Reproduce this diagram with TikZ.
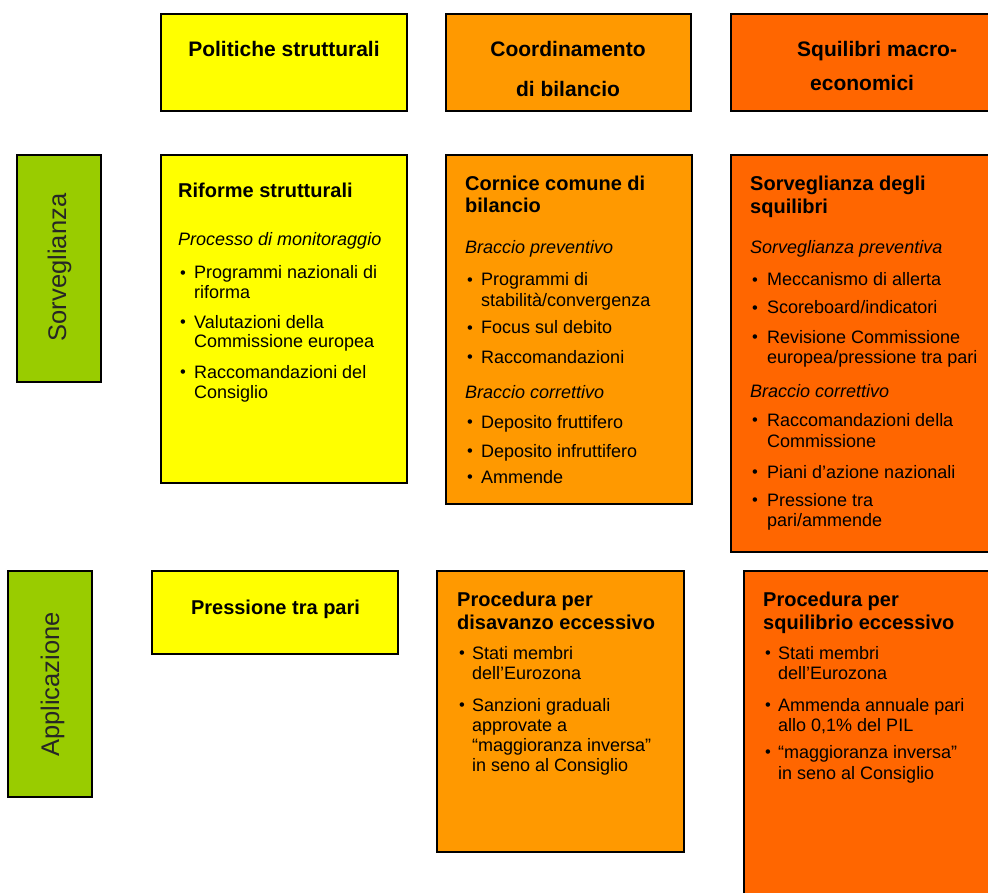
\documentclass[tikz,border=0pt]{standalone}
\usepackage{fontspec}
\setmainfont{Liberation Sans}
\definecolor{cyel}{HTML}{FFFF00}
\definecolor{corg}{HTML}{FF9900}
\definecolor{cdor}{HTML}{FF6600}
\definecolor{cgrn}{HTML}{99CC00}
\tikzset{
  box/.style={draw=black, line width=1.3pt, inner sep=0pt, outer sep=0pt, anchor=north west},
  hd/.style={font=\fontsize{21}{24}\selectfont\bfseries, anchor=base, inner sep=0pt},
  hdl/.style={font=\fontsize{21}{24}\selectfont\bfseries, anchor=base west, inner sep=0pt},
  ttl/.style={font=\fontsize{20}{22}\selectfont\bfseries, anchor=base west, inner sep=0pt},
  itl/.style={font=\fontsize{18}{20}\selectfont\itshape, anchor=base west, inner sep=0pt},
  txt/.style={font=\fontsize{18}{20}\selectfont, anchor=base west, inner sep=0pt},
  dot/.style={font=\fontsize{16.5}{18}\selectfont, anchor=base west, inner sep=0pt},
  side/.style={font=\fontsize{25.5}{27}\selectfont, rotate=90, anchor=base, inner sep=0pt, text=black!85},
}
\newcommand\bitem[5]{\node[dot] (#1b) at (#2,#4-0.5) {\textbullet}; \node[txt] (#1) at (#3,#4) {#5};}
\begin{document}
\begin{tikzpicture}[x=1pt,y=-1pt]
\useasboundingbox (0,0) rectangle (988,893);
\clip (0,0) rectangle (988,893);
% row 0 headers
\node[box, fill=cyel, minimum width=246pt, minimum height=97pt] (h1) at (161,14) {};
\node[box, fill=corg, minimum width=245pt, minimum height=97pt] (h2) at (446,14) {};
\node[box, fill=cdor, minimum width=290pt, minimum height=97pt] (h3) at (731,14) {};
\node[hd] (h1t) at (284,57) {Politiche strutturali};
\node[hd] (h2t) at (568,57) {Coordinamento};
\node[hd] (h2u) at (568,97) {di bilancio};
\node[hdl] (h3t) at (797,57) {Squilibri macro-};
\node[hdl] (h3u) at (810,91) {economici};
% row 1
\node[box, fill=cgrn, minimum width=84pt, minimum height=227pt] (g1) at (17,155) {};
\node[side] (g1t) at (66,267.5) {Sorveglianza};
\node[box, fill=cyel, minimum width=246pt, minimum height=328pt] (b1) at (161,155) {};
\node[box, fill=corg, minimum width=246pt, minimum height=349pt] (b2) at (446,155) {};
\node[box, fill=cdor, minimum width=290pt, minimum height=397pt] (b3) at (731,155) {};
% b1 text
\node[ttl] (b1t) at (178,198) {Riforme strutturali};
\node[itl] (b1i) at (178,246) {Processo di monitoraggio};
\bitem{b1a}{180}{194}{279}{Programmi nazionali di}
\node[txt] (b1a2) at (194,299) {riforma};
\bitem{b1c}{180}{194}{328}{Valutazioni della}
\node[txt] (b1c2) at (194,348) {Commissione europea};
\bitem{b1e}{180}{194}{378}{Raccomandazioni del}
\node[txt] (b1e2) at (194,398) {Consiglio};
% b2 text
\node[ttl] (b2t) at (465,191) {Cornice comune di};
\node[ttl] (b2u) at (465,213) {bilancio};
\node[itl] (b2i) at (465,254) {Braccio preventivo};
\bitem{b2a}{467}{481}{286}{Programmi di}
\node[txt] (b2a2) at (481,307) {stabilità/convergenza};
\bitem{b2c}{467}{481}{334}{Focus sul debito}
\bitem{b2d}{467}{481}{363}{Raccomandazioni}
\node[itl] (b2j) at (465,398) {Braccio correttivo};
\bitem{b2e}{467}{481}{428}{Deposito fruttifero}
\bitem{b2f}{467}{481}{457}{Deposito infruttifero}
\bitem{b2g}{467}{481}{483}{Ammende}
% b3 text
\node[ttl] (b3t) at (750,191) {Sorveglianza degli};
\node[ttl] (b3u) at (750,214) {squilibri};
\node[itl] (b3i) at (750,254) {Sorveglianza preventiva};
\bitem{b3a}{752}{767}{286}{Meccanismo di allerta}
\bitem{b3c}{752}{767}{314}{Scoreboard/indicatori}
\bitem{b3d}{752}{767}{343}{Revisione Commissione}
\node[txt] (b3d2) at (767,363) {europea/pressione tra pari};
\node[itl] (b3j) at (750,397) {Braccio correttivo};
\bitem{b3e}{752}{767}{426}{Raccomandazioni della}
\node[txt] (b3e2) at (767,447) {Commissione};
\bitem{b3f}{752}{767}{478}{Piani d’azione nazionali}
\bitem{b3g}{752}{767}{506}{Pressione tra}
\node[txt] (b3g2) at (767,526) {pari/ammende};
% row 2
\node[box, fill=cgrn, minimum width=84pt, minimum height=226pt] (g2) at (8,571) {};
\node[side] (g2t) at (59,684.5) {Applicazione};
\node[box, fill=cyel, minimum width=246pt, minimum height=83pt] (b4) at (152,571) {};
\node[ttl, anchor=base] (b4t) at (275.5,614) {Pressione tra pari};
\node[box, fill=corg, minimum width=247pt, minimum height=281pt] (b5) at (437,571) {};
\node[box, fill=cdor, minimum width=290pt, minimum height=350pt] (b6) at (744,571) {};
% b5 text
\node[ttl] (b5t) at (457,606) {Procedura per};
\node[ttl] (b5u) at (457,629) {disavanzo eccessivo};
\bitem{b5a}{459}{472}{659}{Stati membri}
\node[txt] (b5a2) at (472,679) {dell’Eurozona};
\bitem{b5c}{459}{472}{711}{Sanzioni graduali}
\node[txt] (b5c2) at (472,731) {approvate a};
\node[txt] (b5c3) at (472,751) {“maggioranza inversa”};
\node[txt] (b5c4) at (472,771) {in seno al Consiglio};
% b6 text
\node[ttl] (b6t) at (763,606) {Procedura per};
\node[ttl] (b6u) at (763,629) {squilibrio eccessivo};
\bitem{b6a}{765}{778}{659}{Stati membri}
\node[txt] (b6a2) at (778,679) {dell’Eurozona};
\bitem{b6c}{765}{778}{711}{Ammenda annuale pari}
\node[txt] (b6c2) at (778,731) {allo 0,1\% del PIL};
\bitem{b6d}{765}{778}{758}{“maggioranza inversa”}
\node[txt] (b6d2) at (778,779) {in seno al Consiglio};
\end{tikzpicture}
\end{document}
